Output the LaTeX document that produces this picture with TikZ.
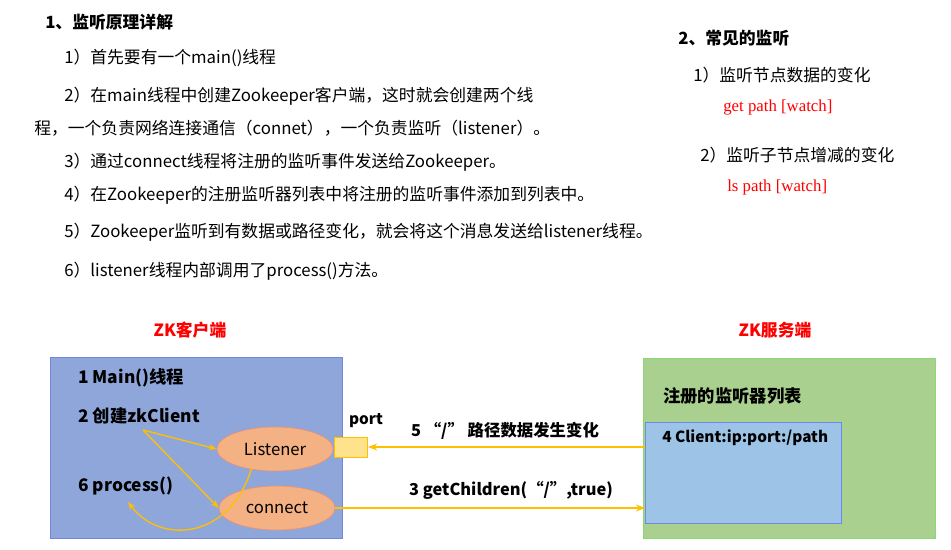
\documentclass[tikz,border=0pt]{standalone}
\usepackage{fontspec}
\setmainfont{Noto Sans CJK SC}
\newfontfamily\serifen{Liberation Serif}
\usetikzlibrary{shapes.geometric, arrows.meta}
\definecolor{clientblue}{HTML}{8FA6DA}
\definecolor{serverGreen}{HTML}{A9D08E}
\definecolor{innerblue}{HTML}{9DC3E6}
\definecolor{linkyellow}{HTML}{FFC000}
\definecolor{ovalfill}{HTML}{F4B183}
\tikzstyle{txt} = [anchor=west, inner sep=0pt, font=\fontsize{12.6}{14}\selectfont]
\tikzstyle{boxtxt} = [anchor=west, inner sep=0pt, font=\fontsize{13}{15}\selectfont\bfseries]
\tikzstyle{oval} = [ellipse, minimum width=87pt, minimum height=33pt, draw=ovalfill!80!red, fill=ovalfill, font=\fontsize{12.5}{14}\selectfont]
\tikzstyle{arrow} = [linkyellow, line width=1.5pt, -{Stealth[length=7pt]}]
\tikzstyle{thin arrow} = [linkyellow, line width=1pt, -{Stealth[length=6pt]}]

\begin{document}
\begin{tikzpicture}[x=0.75pt, y=-0.75pt]
        \useasboundingbox (0,0) rectangle (951,550);

        % Text part
        \node (title1) [txt, font=\fontsize{12.6}{14}\selectfont\bfseries] at (45,22) {1、监听原理详解};
        \node (step1) [txt] at (64,58) {1）首先要有一个main()线程};
        \node (step2) [txt] at (64,96) {2）在main线程中创建Zookeeper客户端，这时就会创建两个线};
        \node (step2b) [txt] at (34,128) {程，一个负责网络连接通信（connet），一个负责监听（listener）。};
        \node (step3) [txt] at (64,162) {3）通过connect线程将注册的监听事件发送给Zookeeper。};
        \node (step4) [txt] at (64,195) {4）在Zookeeper的注册监听器列表中将注册的监听事件添加到列表中。};
        \node (step5) [txt] at (64,232) {5）Zookeeper监听到有数据或路径变化，就会将这个消息发送给listener线程。};
        \node (step6) [txt] at (64,271) {6）listener线程内部调用了process()方法。};

        \node (title2) [txt, font=\fontsize{12.6}{14}\selectfont\bfseries] at (678,38) {2、常见的监听};
        \node (watch1) [txt] at (693,75) {1）监听节点数据的变化};
        \node (cmd1) [txt, red, font=\serifen\fontsize{12.6}{14}\selectfont] at (723,107) {get path [watch]};
        \node (watch2) [txt] at (700,155) {2）监听子节点增减的变化};
        \node (cmd2) [txt, red, font=\serifen\fontsize{12.6}{14}\selectfont] at (727,187) {ls path [watch]};

        % Client side
        \node (clienttitle) [red, font=\fontsize{12.6}{14}\selectfont\bfseries] at (190,330) {ZK客户端};
        \draw [draw=clientblue!80!blue, fill=clientblue] (50,357) rectangle (342,538);
        \node (main) [boxtxt] at (78,378) {1 Main()线程};
        \node (create) [boxtxt] at (78,416) {2 创建zkClient};
        \node (process) [boxtxt] at (78,486) {6 process()};
        \node (listener) [oval] at (275,449) {Listener};
        \node (connect) [oval] at (277,508) {connect};
        \node (port) [draw=linkyellow, fill=linkyellow!45, minimum width=25pt, minimum height=15pt, inner sep=0pt] at (351,447) {};
        \node (portlbl) [font=\fontsize{11.5}{13}\selectfont\bfseries] at (366,421) {port};

        % Server side
        \node (servertitle) [red, font=\fontsize{12.6}{14}\selectfont\bfseries] at (775,330) {ZK服务端};
        \draw [draw=serverGreen!80!green, fill=serverGreen] (643,358) rectangle (935,538);
        \node (list) [boxtxt] at (663,396) {注册的监听器列表};
        \node (inner) [draw=innerblue!70!blue, fill=innerblue, minimum width=147pt, minimum height=76pt, inner sep=0pt] at (743.5,472.5) {};
        \node (entry) [boxtxt, font=\fontsize{11.5}{13}\selectfont\bfseries] at (662,438) {4 Client:ip:port:/path};

        % Arrows
        \coordinate (fork) at (143,430);
        \draw [thin arrow] (fork) -- (listener.west);
        \draw [thin arrow] (fork) -- (connect.west);
        \draw [thin arrow] (listener.south west) ++(18,3) .. controls (230,540) and (160,545) .. (128,502);
        \draw [arrow] (inner.west |- port) -- (port.east);
        \draw [arrow] (connect.east) -- (inner.west |- connect);
        \node (msg5) [font=\fontsize{12.3}{14}\selectfont\bfseries] at (505,431) {5 “/” 路径数据发生变化};
        \node (msg3) [font=\fontsize{12.3}{14}\selectfont\bfseries] at (511,490) {3 getChildren(“/”,true)};

\end{tikzpicture}
\end{document}
